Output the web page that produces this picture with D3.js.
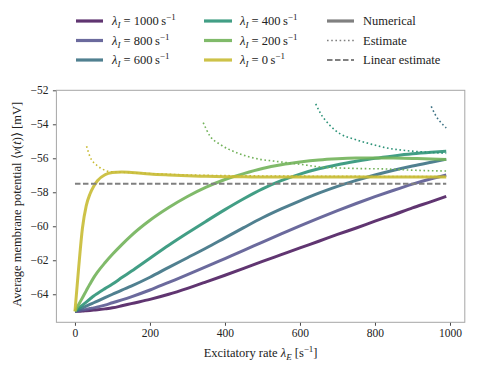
<!DOCTYPE html>
<html>
<head>
<meta charset="utf-8">
<script src="https://cdn.jsdelivr.net/npm/d3@7"></script>
<style>
  body { margin: 0; background: #fff; }
  svg text { font-family: 'Liberation Serif', serif; fill: #222; }
</style>
</head>
<body>
<div id="chart"></div>
<script>
// inhibitory rates, one numerical curve each
const rateI = [1000, 800, 600, 400, 200, 0];
const colors = ["#4f1f62", "#5b5a92", "#3d7284", "#2d9378", "#72b25a", "#c8bb34"];

// excitatory rate grid for the numerical curves
const rateE = [0, 10, 20, 30, 40, 50, 60, 80, 100, 125, 150, 200, 250, 300, 350, 400,
  450, 500, 550, 600, 650, 700, 750, 800, 850, 900, 950, 990];

// numerical mean potential (mV)
const num1000 = [-65, -65.0, -64.99, -64.97, -64.95, -64.93, -64.91, -64.86, -64.8, -64.68, -64.55, -64.3, -64.0, -63.65, -63.27, -62.88,
  -62.48, -62.07, -61.67, -61.27, -60.88, -60.48, -60.1, -59.7, -59.32, -58.92, -58.55, -58.24];
const num800 = [-65, -64.97, -64.93, -64.89, -64.84, -64.8, -64.75, -64.64, -64.5, -64.33, -64.15, -63.75, -63.3, -62.85, -62.38, -61.9,
  -61.42, -60.93, -60.45, -59.98, -59.52, -59.08, -58.66, -58.26, -57.88, -57.52, -57.2, -56.98];
const num600 = [-65, -64.9, -64.8, -64.7, -64.6, -64.5, -64.4, -64.2, -64.0, -63.75, -63.52, -63.0, -62.42, -61.85, -61.28, -60.68,
  -60.08, -59.5, -58.98, -58.5, -58.05, -57.65, -57.3, -56.98, -56.7, -56.45, -56.23, -56.06];
const num400 = [-65, -64.82, -64.64, -64.46, -64.28, -64.1, -63.95, -63.67, -63.4, -63.02, -62.65, -61.88, -61.12, -60.4, -59.7, -59.02,
  -58.38, -57.8, -57.32, -56.93, -56.62, -56.38, -56.18, -56.0, -55.86, -55.74, -55.65, -55.59];
const num200 = [-65, -64.6, -64.2, -63.8, -63.4, -63.02, -62.7, -62.15, -61.65, -61.08, -60.55, -59.65, -58.9, -58.25, -57.7, -57.25,
  -56.9, -56.6, -56.38, -56.22, -56.1, -56.03, -55.99, -55.98, -55.99, -56.01, -56.04, -56.07];
const num0 = [-65, -62.4, -60.1, -58.8, -58.1, -57.65, -57.32, -56.97, -56.84, -56.8, -56.83, -56.92, -56.98, -57.03, -57.06, -57.08,
  -57.09, -57.1, -57.1, -57.1, -57.1, -57.1, -57.1, -57.1, -57.1, -57.1, -57.1, -57.1];
const numerical = [num1000, num800, num600, num400, num200, num0];

// estimate curves (only defined above a threshold rate)
const estE600 = [950, 960, 970, 980, 990];
const est600 = [-52.95, -53.4, -53.75, -54.0, -54.22];
const estE400 = [642, 653, 680, 707, 742, 787, 831, 884, 947, 990];
const est400 = [-52.8, -53.29, -54.07, -54.56, -54.86, -55.15, -55.39, -55.55, -55.65, -55.71];
const estE200 = [342, 360, 387, 431, 493, 529, 600, 653, 750, 831, 900, 990];
const est200 = [-53.9, -54.69, -55.18, -55.67, -56.06, -56.16, -56.35, -56.51, -56.6, -56.63, -56.7, -56.75];
const estE0 = [31, 40, 50, 58, 70, 84, 100, 125, 150, 200, 300, 400, 600, 800, 990];
const est0 = [-55.29, -55.9, -56.25, -56.41, -56.6, -56.74, -56.8, -56.82, -56.85, -56.9, -56.98, -57.02, -57.05, -57.07, -57.08];
const estimates = [
  {i: 2, xs: estE600, ys: est600},
  {i: 3, xs: estE400, ys: est400},
  {i: 4, xs: estE200, ys: est200},
  {i: 5, xs: estE0, ys: est0}
];

// linear estimate
const linearE = [0, 990];
const linearV = [-57.5, -57.5];

const xTicks = [0, 200, 400, 600, 800, 1000];
const yTicks = [-64, -62, -60, -58, -56, -54, -52];

const W = 479, H = 372;
const m = {left: 56.4, right: 464.8, top: 90.3, bottom: 322.3};

const svg = d3.select("#chart").append("svg")
  .attr("width", W).attr("height", H);

const x = d3.scaleLinear().domain([-49.5, 1039.5]).range([m.left, m.right]);
const y = d3.scaleLinear().domain([-65.65, -52]).range([m.bottom, m.top]);

const line = d3.line()
  .x(d => x(d[0])).y(d => y(d[1]))
  .curve(d3.curveMonotoneX);

// numerical curves
const plot = svg.append("g");
numerical.forEach(function(vals, k) {
  plot.append("path")
    .attr("d", line(rateE.map((e, j) => [e, vals[j]])))
    .attr("fill", "none")
    .attr("stroke", colors[k])
    .attr("stroke-width", 3)
    .attr("stroke-opacity", 0.9);
});

// estimates, dotted
estimates.forEach(function(s) {
  plot.append("path")
    .attr("d", line(s.xs.map((e, j) => [e, s.ys[j]])))
    .attr("fill", "none")
    .attr("stroke", colors[s.i])
    .attr("stroke-width", 1.6)
    .attr("stroke-dasharray", "1.6,2.6");
});

// linear estimate, dashed
plot.append("path")
  .attr("d", line(linearE.map((e, j) => [e, linearV[j]])))
  .attr("fill", "none")
  .attr("stroke", "#808080")
  .attr("stroke-width", 2)
  .attr("stroke-dasharray", "5.5,2.5");

// axes
const fmt = d => d < 0 ? "\u2212" + Math.abs(d) : d;
const xAxis = svg.append("g")
  .attr("transform", `translate(0,${m.bottom})`)
  .call(d3.axisBottom(x).tickValues(xTicks).tickSize(3.5).tickPadding(3.5).tickFormat(fmt));
const yAxis = svg.append("g")
  .attr("transform", `translate(${m.left},0)`)
  .call(d3.axisLeft(y).tickValues(yTicks).tickSize(3.5).tickPadding(4.5).tickFormat(fmt));
[xAxis, yAxis].forEach(function(a) {
  a.attr("font-family", null).attr("font-size", null);
  a.select(".domain").remove();
  a.selectAll(".tick line").attr("stroke", "#333").attr("stroke-width", 0.9);
  a.selectAll(".tick text").style("font-size", "11.5px").attr("fill", "#222");
});

// frame
svg.append("rect")
  .attr("x", m.left).attr("y", m.top)
  .attr("width", m.right - m.left).attr("height", m.bottom - m.top)
  .attr("fill", "none").attr("stroke", "#a6a6a6").attr("stroke-width", 1);

// axis labels
const xl = svg.append("text")
  .attr("x", (m.left + m.right) / 2).attr("y", 357)
  .attr("text-anchor", "middle").style("font-size", "12.5px");
xl.append("tspan").text("Excitatory rate ");
xl.append("tspan").style("font-style", "italic").text("\u03bb");
xl.append("tspan").style("font-style", "italic").style("font-size", "9px").attr("dy", 3).text("E");
xl.append("tspan").attr("dy", -3).text(" [s");
xl.append("tspan").style("font-size", "9px").attr("dy", -5).text("\u22121");
xl.append("tspan").attr("dy", 5).text("]");

const yl = svg.append("text")
  .attr("transform", `translate(21,${(m.top + m.bottom) / 2 - 2}) rotate(-90)`)
  .attr("text-anchor", "middle").style("font-size", "12.5px");
yl.append("tspan").text("Average membrane potential \u27e8");
yl.append("tspan").style("font-style", "italic").text("v");
yl.append("tspan").text("(");
yl.append("tspan").style("font-style", "italic").text("t");
yl.append("tspan").text(")\u27e9 [mV]");

// legend
const rows = [21, 40.5, 60];
const cols = [{x0: 76, x1: 103, tx: 112}, {x0: 204, x1: 232, tx: 240}, {x0: 327, x1: 354, tx: 363}];
const legend = svg.append("g");

rateI.forEach(function(r, k) {
  const c = cols[Math.floor(k / 3)], ry = rows[k % 3];
  legend.append("line")
    .attr("x1", c.x0).attr("x2", c.x1).attr("y1", ry).attr("y2", ry)
    .attr("stroke", colors[k]).attr("stroke-width", 3.2).attr("stroke-opacity", 0.9);
  const t = legend.append("text").attr("x", c.tx).attr("y", ry + 4).style("font-size", "12.5px");
  t.append("tspan").style("font-style", "italic").text("\u03bb");
  t.append("tspan").style("font-style", "italic").style("font-size", "9px").attr("dy", 3).text("I");
  t.append("tspan").attr("dy", -3).text(` = ${r}\u2009s`);
  t.append("tspan").style("font-size", "9px").attr("dy", -5).text("\u22121");
});

const styleNames = ["Numerical", "Estimate", "Linear estimate"];
const styleDash = [null, "1.6,2.6", "5.5,2.5"];
const styleWidth = [3.2, 1.6, 2];
styleNames.forEach(function(n, k) {
  const c = cols[2], ry = rows[k];
  legend.append("line")
    .attr("x1", c.x0).attr("x2", c.x1).attr("y1", ry).attr("y2", ry)
    .attr("stroke", "#808080").attr("stroke-width", styleWidth[k])
    .attr("stroke-dasharray", styleDash[k]);
  legend.append("text").attr("x", c.tx).attr("y", ry + 4)
    .style("font-size", "12.5px").text(n);
});
</script>
</body>
</html>
